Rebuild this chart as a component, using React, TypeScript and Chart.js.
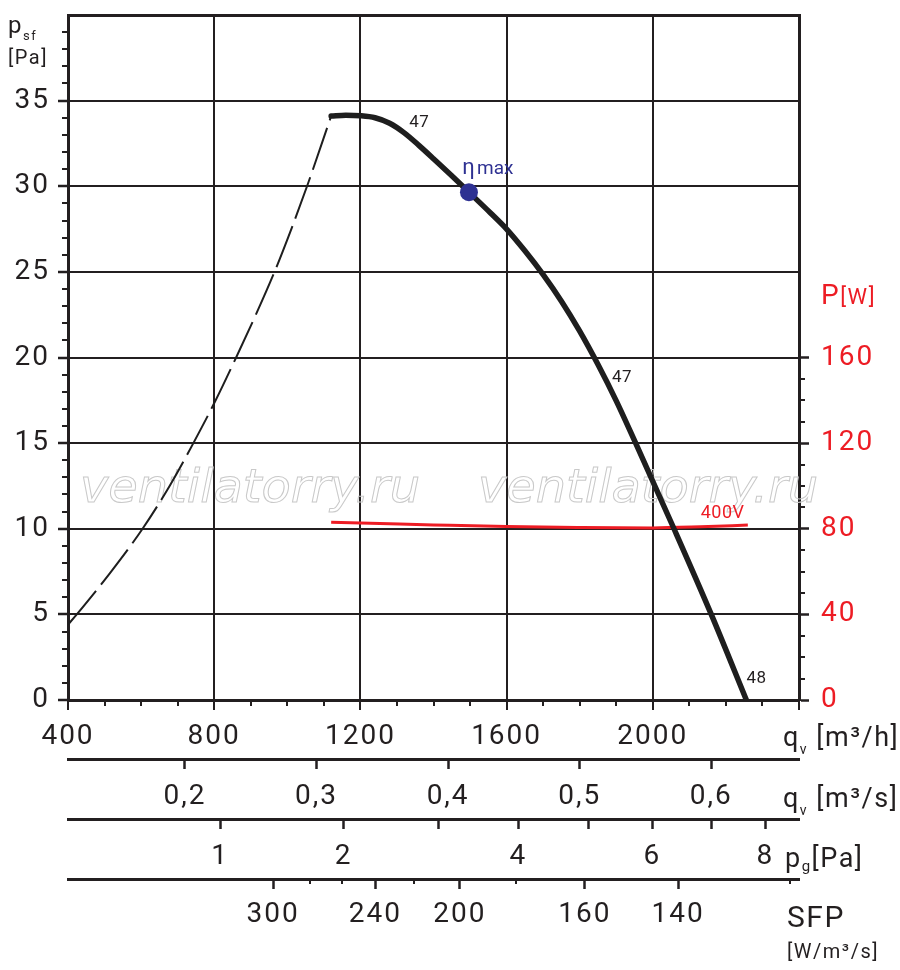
import React, { useEffect, useRef } from 'react';
import { Chart, registerables } from 'chart.js';

Chart.register(...registerables);

const FONT = 'Roboto, "DejaVu Sans", sans-serif';
const INK = '#231f20';
const RED = '#ed1c24';
const BLUE = '#2e3192';

// ---- characteristic curves: static pressure psf [Pa] vs airflow qv [m³/h]
const stallFlow = [400, 424, 518, 604, 678, 743, 804, 860, 914, 965, 1011, 1054, 1120];
const stallPressure = [4.4, 5.0, 7.5, 10.0, 12.5, 15.0, 17.5, 20.0, 22.5, 25.0, 27.5, 30.0, 34.1];
const fanFlow = [1120, 1160, 1200, 1240, 1280, 1320, 1360, 1400, 1450, 1497, 1556, 1600, 1650, 1700, 1750, 1800, 1850, 1900, 1951, 2058, 2160, 2256];
const fanPressure = [34.1, 34.15, 34.12, 34.0, 33.68, 33.12, 32.39, 31.61, 30.61, 29.65, 28.44, 27.5, 26.23, 24.84, 23.29, 21.54, 19.59, 17.47, 15.1, 10.0, 5.0, 0];
// ---- input power P [W] (400V)
const powerFlow = [1120, 1200, 1400, 1600, 1800, 2000, 2130, 2260];
const powerWatts = [83.0, 82.7, 81.8, 81.0, 80.6, 80.4, 80.9, 81.7];
// ---- best efficiency point
const etaMaxFlow = [1497];
const etaMaxPressure = [29.65];

// ---- curve annotations (data units)
const noteTexts = ['47', '47', '48'];
const noteFlow = [1361, 1916, 2284];
const notePressure = [33.7, 18.8, 1.27];
const voltageText = '400V';
const voltageFlow = [2191];
const voltagePressure = [10.9];
const etaLabelFlow = [1479];
const etaLabelPressure = [30.7];

// ---- axes
const flowTicks = [400, 800, 1200, 1600, 2000, 2400];
const flowTickLabels = ['400', '800', '1200', '1600', '2000', ''];
const flowMinorStep = 100;
const pressureTicks = [0, 5, 10, 15, 20, 25, 30, 35, 40];
const pressureTickLabels = ['0', '5', '10', '15', '20', '25', '30', '35', ''];
const powerTicks = [0, 40, 80, 120, 160];
const powerTickLabels = ['0', '40', '80', '120', '160'];
const powerMinorTicks = [10, 20, 30, 50, 60, 70, 90, 100, 110, 130, 140, 150];
const flowSecondTicks = [0.2, 0.3, 0.4, 0.5, 0.6];
const flowSecondLabels = ['0,2', '0,3', '0,4', '0,5', '0,6'];
const dynPressureTicks = [1, 2, 3, 4, 5, 6, 7, 8];
const dynPressureLabels = ['1', '2', '', '4', '', '6', '', '8'];
const sfpTicks = ['300', '240', '200', '160', '140'];
const sfpTickFlow = [961, 1241, 1472, 1814, 2069];
const sfpMinorTicks = [280, 260, 220, 180, 120];
const sfpMinorFlow = [1061, 1150, 1347, 1627, 2375];
const ductArea = 0.1756; // m²
const airDensity = 1.2; // kg/m³

const WATERMARK = 'ventilatorry.ru';

const pts = (xs: number[], ys: number[]) => xs.map((x, i) => ({ x, y: ys[i] }));
const flowForDynPressure = (pg: number) => 3600 * ductArea * Math.sqrt((2 * pg) / airDensity);

function seg(ctx: CanvasRenderingContext2D, x1: number, y1: number, x2: number, y2: number) {
  ctx.beginPath();
  ctx.moveTo(x1, y1);
  ctx.lineTo(x2, y2);
  ctx.stroke();
}

type Run = { t: string; size: number; dy?: number; ls?: string };
function drawRuns(ctx: any, x: number, y: number, runs: Run[]) {
  let cx = x;
  const base = ctx.letterSpacing;
  for (const r of runs) {
    ctx.letterSpacing = r.ls || base;
    ctx.font = `${r.size}px ${FONT}`;
    ctx.fillText(r.t, cx, y + (r.dy || 0));
    cx += ctx.measureText(r.t).width;
  }
  ctx.letterSpacing = base;
}

const noPadding = (s: any) => {
  s.paddingTop = 0;
  s.paddingBottom = 0;
  s.paddingLeft = 0;
  s.paddingRight = 0;
};

const decorPlugin = {
  id: 'fanDecor',
  beforeDraw(chart: any) {
    chart.ctx.letterSpacing = '2px';
  },
  beforeDatasetsDraw(chart: any) {
    const { ctx, chartArea, scales } = chart;
    // watermark
    ctx.save();
    ctx.letterSpacing = '0px';
    ctx.font = 'italic 47px "DejaVu Sans"';
    const w = ctx.measureText(WATERMARK).width;
    ctx.strokeStyle = '#c9c9c9';
    ctx.lineWidth = 1;
    [chartArea.left + 12, chartArea.left + 410].forEach((x0: number) => {
      ctx.save();
      ctx.translate(x0, 502);
      ctx.scale(340 / w, 1);
      ctx.strokeText(WATERMARK, 0, 0);
      ctx.restore();
    });
    ctx.restore();

    // minor ticks
    ctx.save();
    ctx.strokeStyle = INK;
    ctx.lineWidth = 2;
    const x = scales.x;
    for (let q = x.min + flowMinorStep; q < x.max; q += flowMinorStep) {
      if (flowTicks.includes(q)) continue;
      const px = Math.round(x.getPixelForValue(q));
      seg(ctx, px, chartArea.bottom, px, chartArea.bottom + 6);
    }
    const y = scales.y;
    for (let p = 1; p < y.max; p++) {
      if (p % 5 === 0) continue;
      const py = Math.round(y.getPixelForValue(p));
      seg(ctx, chartArea.left - 6, py, chartArea.left, py);
    }
    const yP = scales.yP;
    powerMinorTicks.forEach((v) => {
      const py = Math.round(yP.getPixelForValue(v));
      seg(ctx, chartArea.right, py, chartArea.right + 6, py);
    });
    const xS = scales.xSfp;
    sfpMinorFlow.forEach((q) => {
      const px = Math.round(xS.getPixelForValue(q));
      seg(ctx, px, xS.top, px, xS.top + 5);
    });
    ctx.restore();
  },
  afterDatasetsDraw(chart: any) {
    const { ctx, scales } = chart;
    const x = scales.x;
    const y = scales.y;
    ctx.save();
    ctx.letterSpacing = '0.5px';
    ctx.textAlign = 'center';
    ctx.textBaseline = 'middle';
    ctx.fillStyle = INK;
    ctx.font = `17px ${FONT}`;
    noteTexts.forEach((t, i) => {
      ctx.fillText(t, x.getPixelForValue(noteFlow[i]), y.getPixelForValue(notePressure[i]));
    });
    ctx.fillStyle = RED;
    ctx.font = `18px ${FONT}`;
    ctx.fillText(voltageText, x.getPixelForValue(voltageFlow[0]), y.getPixelForValue(voltagePressure[0]));
    ctx.textAlign = 'left';
    ctx.textBaseline = 'alphabetic';
    ctx.fillStyle = BLUE;
    ctx.letterSpacing = '0px';
    drawRuns(ctx, x.getPixelForValue(etaLabelFlow[0]), y.getPixelForValue(etaLabelPressure[0]), [
      { t: 'η', size: 22 },
      { t: ' ', size: 9 },
      { t: 'max', size: 19 },
    ]);
    ctx.restore();
  },
  afterDraw(chart: any) {
    const { ctx, chartArea, scales } = chart;
    ctx.save();
    ctx.textAlign = 'left';
    ctx.textBaseline = 'alphabetic';
    ctx.letterSpacing = '1.5px';
    ctx.fillStyle = INK;
    // left axis title
    drawRuns(ctx, 8, 32.5, [
      { t: 'p', size: 24 },
      { t: 'sf', size: 13, dy: 7 },
    ]);
    drawRuns(ctx, 8, 63.5, [{ t: '[Pa]', size: 20 }]);
    // right axis title
    ctx.fillStyle = RED;
    drawRuns(ctx, chartArea.right + 22, 304, [
      { t: 'P', size: 28 },
      { t: '[W]', size: 22 },
    ]);
    ctx.fillStyle = INK;
    const ux = chartArea.right - 16;
    drawRuns(ctx, ux, scales.x.top + 46, [
      { t: 'q', size: 27 },
      { t: 'v', size: 14, dy: 8 },
      { t: ' [m³/h]', size: 27 },
    ]);
    drawRuns(ctx, ux, scales.xSec.top + 48, [
      { t: 'q', size: 27 },
      { t: 'v', size: 14, dy: 8 },
      { t: ' [m³/s]', size: 27 },
    ]);
    drawRuns(ctx, ux + 2, scales.xDyn.top + 47.5, [
      { t: 'p', size: 27 },
      { t: 'g', size: 15, dy: 4 },
      { t: '[Pa]', size: 27 },
    ]);
    drawRuns(ctx, ux + 4, scales.xSfp.top + 47.5, [{ t: 'SFP', size: 30 }]);
    drawRuns(ctx, ux + 4, scales.xSfp.top + 79, [{ t: '[W/m³/s]', size: 20 }]);
    ctx.restore();
  },
};

const tickFont = { family: FONT, size: 28 };
const lineGrid = { color: INK, lineWidth: 2, tickLength: 10, tickWidth: 2, tickColor: INK };
const sideGrid = { drawOnChartArea: false, color: INK, tickLength: 10, tickWidth: 2.5, tickColor: INK };
const frame = { color: INK, width: 3 };

function secondaryAxis(weight: number, height: number, values: number[], labels: string[], padding: number) {
  return {
    type: 'linear',
    position: 'bottom',
    min: flowTicks[0],
    max: flowTicks[flowTicks.length - 1],
    weight,
    afterBuildTicks: (s: any) => {
      s.ticks = values.map((v) => ({ value: v }));
    },
    afterFit: (s: any) => {
      s.height = height;
      noPadding(s);
    },
    grid: sideGrid,
    border: frame,
    ticks: {
      callback: (_v: any, i: number) => labels[i],
      font: tickFont,
      color: INK,
      padding,
      autoSkip: false,
      maxRotation: 0,
    },
  };
}

export default function App() {
  const ref = useRef<HTMLCanvasElement>(null);
  useEffect(() => {
    document.body.style.margin = '0';
    const canvas = ref.current;
    if (!canvas) return;
    const chart = new Chart(canvas, {
      type: 'line',
      data: {
        datasets: [
          {
            label: 'ηmax',
            data: pts(etaMaxFlow, etaMaxPressure),
            showLine: false,
            pointRadius: 9,
            pointBackgroundColor: BLUE,
            pointBorderWidth: 0,
            xAxisID: 'x',
            yAxisID: 'y',
          },
          {
            label: 'psf',
            data: pts(fanFlow, fanPressure),
            borderColor: '#1e1e1e',
            borderWidth: 5.5,
            borderCapStyle: 'round',
            borderJoinStyle: 'round',
            pointRadius: 0,
            cubicInterpolationMode: 'monotone',
            xAxisID: 'x',
            yAxisID: 'y',
          },
          {
            label: 'stall',
            data: pts(stallFlow, stallPressure),
            borderColor: '#1e1e1e',
            borderWidth: 2,
            borderDash: [44, 8],
            pointRadius: 0,
            cubicInterpolationMode: 'monotone',
            xAxisID: 'x',
            yAxisID: 'y',
          },
          {
            label: 'P',
            data: pts(powerFlow, powerWatts),
            borderColor: RED,
            borderWidth: 3,
            pointRadius: 0,
            cubicInterpolationMode: 'monotone',
            xAxisID: 'x',
            yAxisID: 'yP',
          },
        ],
      },
      options: {
        responsive: false,
        animation: false,
        events: [],
        layout: { padding: { top: 15, left: 0, right: 0, bottom: 0 } },
        plugins: { legend: { display: false }, tooltip: { enabled: false } },
        scales: {
          x: {
            type: 'linear',
            position: 'bottom',
            min: flowTicks[0],
            max: flowTicks[flowTicks.length - 1],
            weight: 0,
            afterBuildTicks: (s: any) => {
              s.ticks = flowTicks.map((v) => ({ value: v }));
            },
            afterFit: (s: any) => {
              s.height = 59;
              noPadding(s);
            },
            grid: lineGrid,
            border: frame,
            ticks: {
              callback: (_v: any, i: number) => flowTickLabels[i],
              font: tickFont,
              color: INK,
              padding: 10,
              autoSkip: false,
              maxRotation: 0,
            },
          },
          xSec: secondaryAxis(1, 60, flowSecondTicks.map((v) => v * 3600), flowSecondLabels, 11),
          xDyn: secondaryAxis(2, 60, dynPressureTicks.map(flowForDynPressure), dynPressureLabels, 11),
          xSfp: secondaryAxis(3, 91, sfpTickFlow, sfpTicks, 9),
          y: {
            type: 'linear',
            position: 'left',
            min: pressureTicks[0],
            max: pressureTicks[pressureTicks.length - 1],
            afterBuildTicks: (s: any) => {
              s.ticks = pressureTicks.map((v) => ({ value: v }));
            },
            afterFit: (s: any) => {
              s.width = 68;
              noPadding(s);
            },
            grid: {
              color: INK,
              lineWidth: (c: any) => (c.tick && c.tick.value === 40 ? 3 : 2),
              tickLength: 10,
              tickWidth: 2.5,
              tickColor: (c: any) => (c.tick && c.tick.value === 40 ? 'rgba(0,0,0,0)' : INK),
            },
            border: frame,
            ticks: {
              callback: (_v: any, i: number) => pressureTickLabels[i],
              font: tickFont,
              color: INK,
              padding: 8,
              autoSkip: false,
            },
          },
          yP: {
            type: 'linear',
            position: 'right',
            min: 0,
            max: 320,
            afterBuildTicks: (s: any) => {
              s.ticks = powerTicks.map((v) => ({ value: v }));
            },
            afterFit: (s: any) => {
              s.width = 101;
              noPadding(s);
            },
            grid: sideGrid,
            border: frame,
            ticks: {
              callback: (_v: any, i: number) => powerTickLabels[i],
              font: tickFont,
              color: RED,
              padding: 12,
              autoSkip: false,
            },
          },
        },
      } as any,
      plugins: [decorPlugin],
    } as any);
    return () => chart.destroy();
  }, []);
  return (
    <div style={{ position: 'absolute', left: 0, top: 0, width: 900, height: 970, background: '#fff' }}>
      <canvas ref={ref} width={900} height={970} style={{ display: 'block', width: 900, height: 970 }} />
    </div>
  );
}
